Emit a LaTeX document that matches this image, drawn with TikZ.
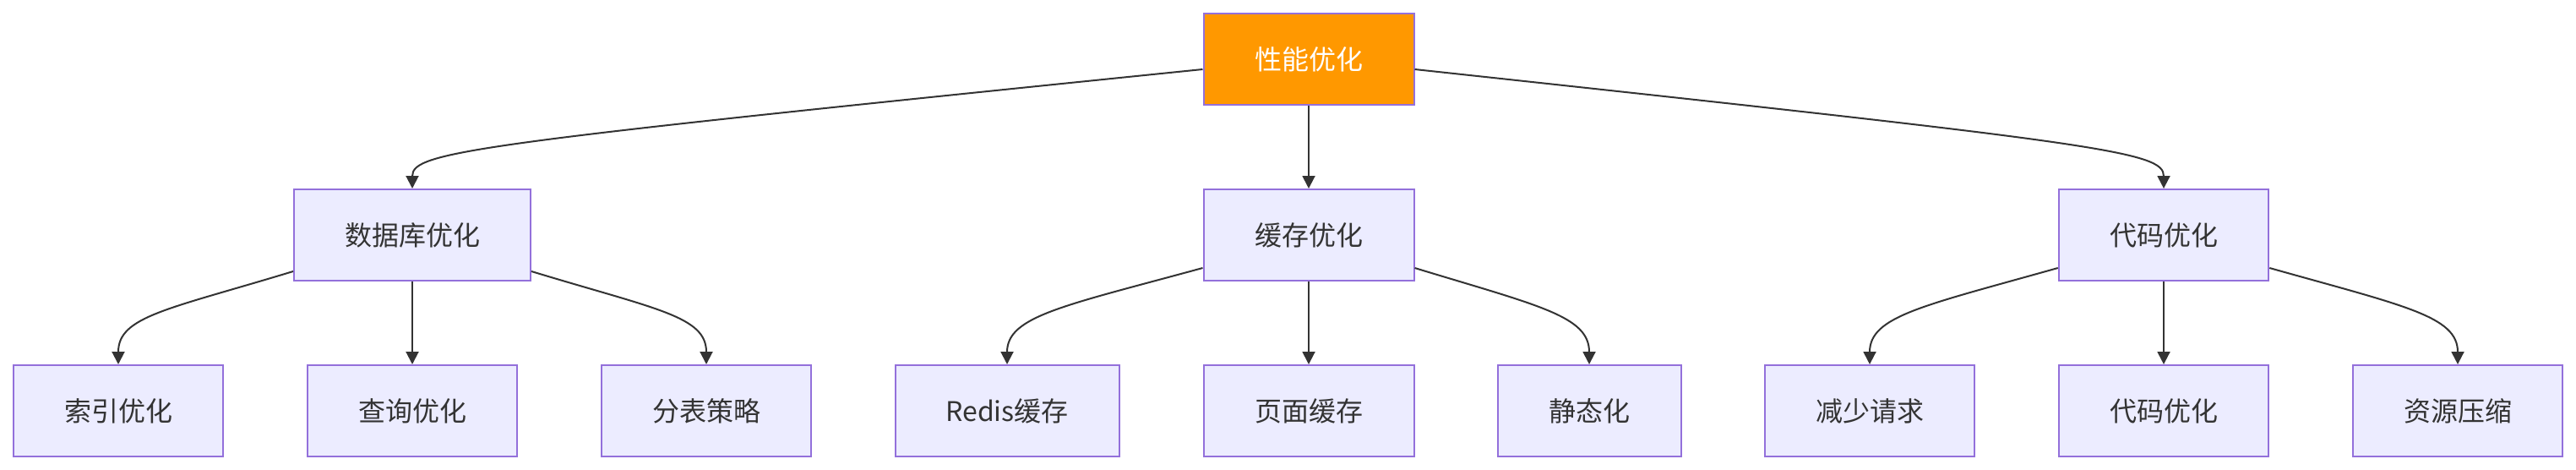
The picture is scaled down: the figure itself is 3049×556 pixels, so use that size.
\documentclass[tikz,border=0pt]{standalone}
\usepackage{fontspec}
\newfontfamily\cjk{Noto Sans CJK SC}
\usetikzlibrary{arrows.meta}
\definecolor{boxfill}{HTML}{ECECFF}
\definecolor{boxline}{HTML}{9370DB}
\definecolor{ink}{HTML}{333333}
\definecolor{rootfill}{HTML}{FF9800}
\begin{document}
\begin{tikzpicture}[x=0.5pt,y=-0.5pt,
  box/.style={draw=boxline,fill=boxfill,line width=1pt,minimum height=54pt,inner sep=0pt,text=ink,font=\cjk\fontsize{16pt}{19pt}\selectfont},
  rootbox/.style={box,fill=rootfill,text=white},
  link/.style={draw=ink,line width=1pt,-{Triangle[length=7.5pt,width=7.5pt]}}]
\useasboundingbox (0,0) rectangle (3049,556);
\fill[white] (0,0) rectangle (3049,556);
% nodes
\node[rootbox,minimum width=124.5pt] (root) at (1549,70) {性能优化};
\node[box,minimum width=140pt] (db) at (488,278) {数据库优化};
\node[box,minimum width=124.5pt] (cache) at (1549,278) {缓存优化};
\node[box,minimum width=124.25pt] (code) at (2561,278) {代码优化};
\node[box,minimum width=124pt] (b1) at (140,486) {索引优化};
\node[box,minimum width=124pt] (b2) at (488,486) {查询优化};
\node[box,minimum width=124pt] (b3) at (836,486) {分表策略};
\node[box,minimum width=132.5pt] (b4) at (1192,486) {Redis缓存};
\node[box,minimum width=124.5pt] (b5) at (1549,486) {页面缓存};
\node[box,minimum width=108.5pt] (b6) at (1881,486) {静态化};
\node[box,minimum width=124pt] (b7) at (2213,486) {减少请求};
\node[box,minimum width=124pt] (b8) at (2561,486) {代码优化};
\node[box,minimum width=124pt] (b9) at (2909,486) {资源压缩};
% edges from root
\draw[link] ([yshift=-6pt]root.west) .. controls +(-864,88) and +(0,-44) .. (db.north);
\draw[link] (root.south) -- (cache.north);
\draw[link] ([yshift=-6pt]root.east) .. controls +(816,88) and +(0,-44) .. (code.north);
% database
\draw[link] ([yshift=6pt]db.south west) .. controls +(-148,45) and +(0,-57) .. (b1.north);
\draw[link] (db.south) -- (b2.north);
\draw[link] ([yshift=6pt]db.south east) .. controls +(148,45) and +(0,-57) .. (b3.north);
% cache
\draw[link] ([yshift=8pt]cache.south west) .. controls +(-165,45) and +(0,-57) .. (b4.north);
\draw[link] (cache.south) -- (b5.north);
\draw[link] ([yshift=8pt]cache.south east) .. controls +(148,45) and +(0,-57) .. (b6.north);
% code
\draw[link] ([yshift=8pt]code.south west) .. controls +(-160,45) and +(0,-57) .. (b7.north);
\draw[link] (code.south) -- (b8.north);
\draw[link] ([yshift=8pt]code.south east) .. controls +(160,45) and +(0,-57) .. (b9.north);
\end{tikzpicture}
\end{document}
